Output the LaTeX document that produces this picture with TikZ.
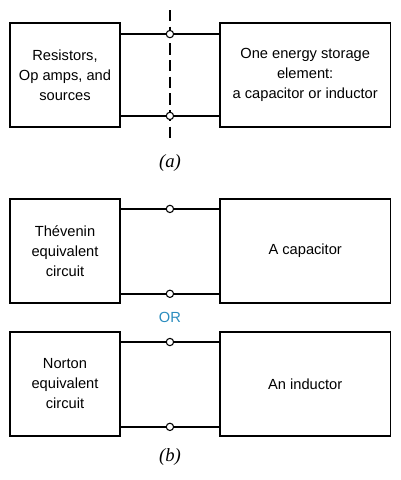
\documentclass[tikz,border=0pt]{standalone}
\usepackage{fontspec}
\setsansfont{Liberation Sans}
\setmainfont{Liberation Serif}
\usetikzlibrary{positioning, calc}
\definecolor{OrBlue}{RGB}{42,140,190}

\begin{document}
\begin{tikzpicture}[
          x=0.75pt, y=-0.75pt,
          block/.style={rectangle, draw, line width=1.4pt, minimum height=78pt, align=center, inner sep=2pt, font=\sffamily\fontsize{11}{15}\selectfont},
          source/.style={block, minimum width=82.5pt},
          load/.style={block, minimum width=128pt},
          terminal/.style={circle, draw, fill=white, line width=0.8pt, minimum size=5.5pt, inner sep=0pt},
          wire/.style={line width=1.2pt},
          cut/.style={line width=1pt, dash pattern=on 8.5pt off 4pt},
          caption/.style={font=\rmfamily\itshape\fontsize{14}{16}\selectfont},
          orlabel/.style={text=OrBlue, font=\sffamily\fontsize{11}{13}\selectfont}
        ]
          \useasboundingbox (0,0) rectangle (401,480);

          % (a) the circuit cut in two
          \node (res) [source] at (65,75) {Resistors,\\Op amps, and\\sources};
          \node (store) [load, right=73.5pt of res] {One energy storage\\element:\\a capacitor or inductor};

          \coordinate (pa1) at ($(res.north east)!0.5!(store.north west)+(0,12)$);
          \coordinate (pa2) at ($(res.south east)!0.5!(store.south west)+(0,-12)$);
          \coordinate (cuttop) at (pa1 |- 0,10);
          \coordinate (cutbot) at (pa1 |- 0,140);
          \draw [cut] (cuttop) -- (cutbot);

          \node (ta1) [terminal] at (pa1) {};
          \node (ta2) [terminal] at (pa2) {};
          \draw [wire] (res.east |- ta1) -- (ta1.west) (ta1.east) -- (store.west |- ta1);
          \draw [wire] (res.east |- ta2) -- (ta2.west) (ta2.east) -- (store.west |- ta2);

          \node (capa) [caption] at (ta2 |- 0,163) {(a)};

          % (b) the two equivalent forms
          \node (thev) [source, below=52.5pt of res] {Thévenin\\equivalent\\circuit};
          \node (cap) [load, right=73.5pt of thev] {A capacitor};
          \node (norton) [source, below=20.4pt of thev] {Norton\\equivalent\\circuit};
          \node (ind) [load, right=73.5pt of norton] {An inductor};

          \node (tb1) [terminal] at ($(thev.north east)!0.5!(cap.north west)+(0,11)$) {};
          \node (tb2) [terminal] at ($(thev.south east)!0.5!(cap.south west)+(0,-10)$) {};
          \node (tb3) [terminal] at ($(norton.north east)!0.5!(ind.north west)+(0,11)$) {};
          \node (tb4) [terminal] at ($(norton.south east)!0.5!(ind.south west)+(0,-10)$) {};
          \draw [wire] (thev.east |- tb1) -- (tb1.west) (tb1.east) -- (cap.west |- tb1);
          \draw [wire] (thev.east |- tb2) -- (tb2.west) (tb2.east) -- (cap.west |- tb2);
          \draw [wire] (norton.east |- tb3) -- (tb3.west) (tb3.east) -- (ind.west |- tb3);
          \draw [wire] (norton.east |- tb4) -- (tb4.west) (tb4.east) -- (ind.west |- tb4);

          \coordinate (gap) at ($(thev.south)!0.5!(norton.north)$);
          \node (or) [orlabel] at (tb2 |- gap) {OR};

          \node (capb) [caption] at (tb4 |- 0,457) {(b)};
        \end{tikzpicture}
\end{document}
